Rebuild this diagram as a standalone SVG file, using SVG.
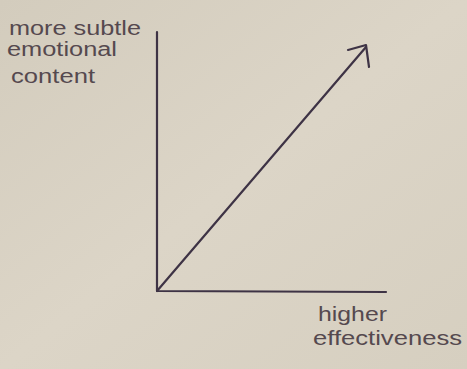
<svg xmlns="http://www.w3.org/2000/svg" width="467" height="369" viewBox="0 0 467 369">
<defs>
<linearGradient id="bg" x1="0" y1="0" x2="1" y2="1">
<stop offset="0" stop-color="#d3ccbd"/>
<stop offset="0.5" stop-color="#dcd5c7"/>
<stop offset="1" stop-color="#d6cfc0"/>
</linearGradient>
<style>
.ax{stroke:#3e3345;stroke-width:2.2;fill:none;stroke-linecap:round;stroke-linejoin:round}
.lbl{font-family:"Liberation Sans","DejaVu Sans",sans-serif;font-size:20px;fill:#55494f}
</style>
</defs>
<rect width="467" height="369" fill="url(#bg)"/>
<g id="connectors">
<path class="ax" d="M157,32 L157,291 L386,292"/>
<path class="ax" d="M157,291 L366,47"/>
<path class="ax" d="M348,50 L366,45 L369,67"/>
</g>
<g id="y-label">
<text class="lbl" x="9" y="35" textLength="132" lengthAdjust="spacingAndGlyphs">more subtle</text>
<text class="lbl" x="7" y="56" textLength="110" lengthAdjust="spacingAndGlyphs">emotional</text>
<text class="lbl" x="11" y="83" textLength="84" lengthAdjust="spacingAndGlyphs">content</text>
</g>
<g id="x-label">
<text class="lbl" x="318" y="321" textLength="69" lengthAdjust="spacingAndGlyphs">higher</text>
<text class="lbl" x="313" y="345" textLength="149" lengthAdjust="spacingAndGlyphs">effectiveness</text>
</g>
</svg>
